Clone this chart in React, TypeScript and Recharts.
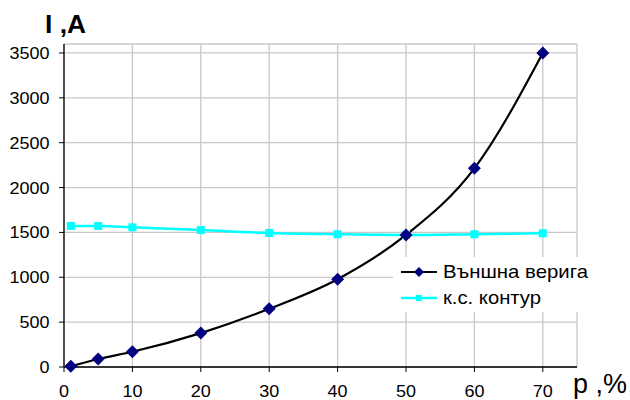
import React from 'react';
import { LineChart, Line, XAxis, YAxis, CartesianGrid } from 'recharts';

const pValues = [1, 5, 10, 20, 30, 40, 50, 60, 70];
const externalCircuit = [7, 89, 170, 378, 649, 979, 1472, 2214, 3500];
const shortCircuitLoop = [1572, 1572, 1557, 1527, 1494, 1480, 1472, 1480, 1491];
const xTicks = [0, 10, 20, 30, 40, 50, 60, 70];
const yTicks = [0, 500, 1000, 1500, 2000, 2500, 3000, 3500];
const seriesNames = ['Външна верига', 'к.с. контур'];

const data = pValues.map((p, i) => ({ p, ext: externalCircuit[i], ks: shortCircuitLoop[i] }));

const FONT = 'Arial, "Liberation Sans", sans-serif';

const Diamond = (props: any) => {
  const { cx, cy } = props;
  if (cx == null || cy == null) return null;
  const r = 6.5;
  return <path d={`M${cx},${cy - r}L${cx + r},${cy}L${cx},${cy + r}L${cx - r},${cy}Z`} fill="#000080" />;
};

const Square = (props: any) => {
  const { cx, cy } = props;
  if (cx == null || cy == null) return null;
  const r = 4;
  return <rect x={cx - r} y={cy - r} width={2 * r} height={2 * r} fill="#00FFFF" />;
};

const YTick = (props: any) => {
  const { x, y, payload } = props;
  const s = String(payload.value);
  return (
    <text x={x} y={y} dy={6} textAnchor="end" fontSize={16.5} fontFamily={FONT} fill="#000"
      textLength={s.length * 10} lengthAdjust="spacingAndGlyphs">{s}</text>
  );
};

const XTick = (props: any) => {
  const { x, y, payload } = props;
  const s = String(payload.value);
  return (
    <text x={x} y={y} dy={18} textAnchor="middle" fontSize={16.5} fontFamily={FONT} fill="#000"
      textLength={s.length * 10} lengthAdjust="spacingAndGlyphs">{s}</text>
  );
};

export default function App() {
  return (
    <div style={{ position: 'absolute', left: 0, top: 0, width: 630, height: 400, background: '#fff' }}>
      <LineChart width={630} height={400} data={data} margin={{ top: 44, right: 53, bottom: 3, left: 0 }}>
        <CartesianGrid stroke="#c8c8c8" strokeWidth={1.3} />
        <XAxis
          dataKey="p"
          type="number"
          domain={[0, 75]}
          ticks={xTicks}
          height={30}
          tickSize={5}
          tickMargin={7}
          stroke="#000"
          tick={<XTick />}
          tickLine={{ stroke: '#000' }}
          axisLine={{ stroke: '#000', strokeWidth: 1.3 }}
        />
        <YAxis
          width={64}
          type="number"
          domain={[0, 3600]}
          ticks={yTicks}
          tickSize={5}
          tickMargin={9.5}
          interval={0}
          stroke="#000"
          tick={<YTick />}
          tickLine={{ stroke: '#000' }}
          axisLine={{ stroke: '#000', strokeWidth: 1.3 }}
        />
        <Line
          dataKey="ks"
          type="monotone"
          stroke="#00FFFF"
          strokeWidth={2.5}
          dot={<Square />}
          activeDot={false}
          isAnimationActive={false}
        />
        <Line
          dataKey="ext"
          type="monotone"
          stroke="#000"
          strokeWidth={2.2}
          dot={<Diamond />}
          activeDot={false}
          isAnimationActive={false}
        />
        <rect x={393} y={257} width={200} height={55} fill="#fff" />
        <g>
          <line x1={401} y1={272} x2={437} y2={272} stroke="#000" strokeWidth={2.2} />
          <path d="M419,267L424,272L419,277L414,272Z" fill="#000080" />
          <text x={443} y={278.3} fontSize={19} fontFamily={FONT} fill="#000"
            textLength={145} lengthAdjust="spacingAndGlyphs">{seriesNames[0]}</text>
          <line x1={401} y1={298} x2={437} y2={298} stroke="#00FFFF" strokeWidth={2.5} />
          <rect x={416} y={295} width={6} height={6} fill="#00FFFF" />
          <text x={443} y={304.3} fontSize={19} fontFamily={FONT} fill="#000"
            textLength={98} lengthAdjust="spacingAndGlyphs">{seriesNames[1]}</text>
        </g>
        <text x={45} y={33} fontSize={25} fontWeight="bold" fontFamily={FONT} fill="#000"
          textLength={41} lengthAdjust="spacingAndGlyphs">I ,A</text>
        <text x={573} y={393} fontSize={27} fontFamily={FONT} fill="#000"
          textLength={54} lengthAdjust="spacingAndGlyphs">p ,%</text>
      </LineChart>
    </div>
  );
}
